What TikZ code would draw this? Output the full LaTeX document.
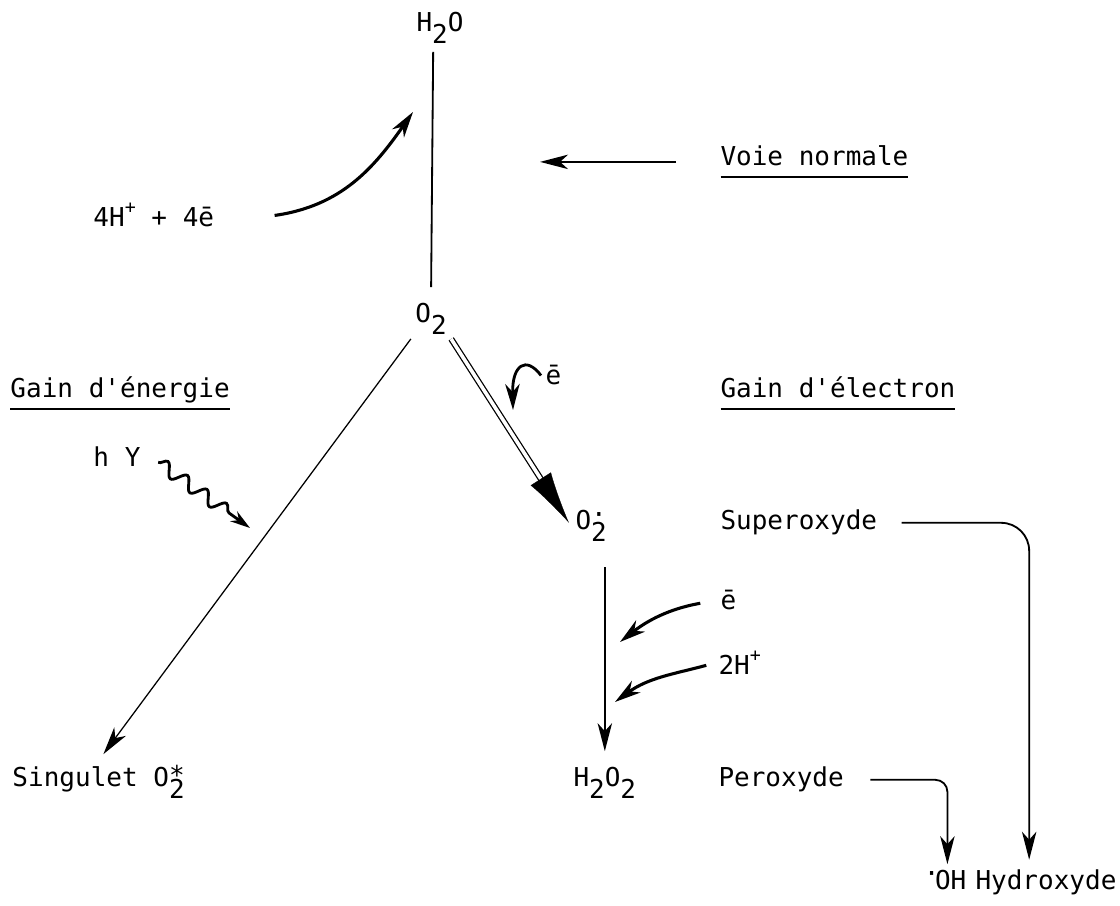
\documentclass[tikz,border=0pt]{standalone}
\usepackage{fontspec}
\setmainfont{DejaVu Sans Mono}
\usetikzlibrary{arrows.meta, positioning, calc, decorations.pathmorphing}
\newcommand\indice[1]{\raisebox{-0.44em}{#1}}
\newcommand\expo[1]{\raisebox{0.5em}{\fontsize{13}{13}\selectfont #1}}
\newcommand\souligne[1]{\setbox0\hbox{#1}\copy0\llap{\rule[-0.45em]{\wd0}{0.9pt}}}
\tikzset{
  texte/.style={font=\fontsize{18.5}{22}\selectfont, inner sep=3pt},
  trait/.style={line width=1.3pt},
  traitFin/.style={line width=0.9pt},
  pointe/.style={-{Stealth[length=7mm, width=3.6mm, inset=2mm]}},
  fleche/.style={trait, pointe},
  flecheCourbe/.style={line width=2.2pt, -{Stealth[length=6.5mm, width=3.6mm, inset=2mm]}},
  doubleTrait/.style={double, double distance=0.9mm, line width=0.9pt, shorten >=7mm},
  grandePointe/.style={white, line width=0.2pt, shorten >=1mm,
    -{Latex[length=13mm, width=6mm, color=black, fill=black]}},
  ondule/.style={line width=2pt, decorate,
    decoration={snake, amplitude=1.6mm, segment length=6mm, post length=5mm},
    -{Stealth[length=5mm, width=3mm]}},
}
\begin{document}
\begin{tikzpicture}[x=0.25mm, y=0.25mm]
  \useasboundingbox (0,0) rectangle (1120,906);
  \node[texte, anchor=base] (eau) at (440,874) {H\indice{2}O};
  \node[texte, anchor=base] (oxy) at (431,583) {O\indice{2}};
  \node[texte, anchor=base west] (protons) at (89,679) {4H\expo{+} + 4ē};
  \node[texte, anchor=base west] (voie) at (716,740) {\souligne{Voie normale}};
  \node[texte, anchor=base west] (energie) at (6,508) {\souligne{Gain d\textquotesingle énergie}};
  \node[texte, anchor=base west] (electron) at (716,508) {\souligne{Gain d\textquotesingle électron}};
  \node[texte, anchor=base west] (hnu) at (89,439) {h Y};
  \node[texte, anchor=base west] (singulet) at (8,119) {Singulet O\makebox[0pt][l]{\raisebox{0.1em}{*}}\indice{2}};
  \node[texte, anchor=base west] (o2rad) at (571,376) {O\makebox[0pt][l]{\raisebox{0.25em}{·}}\indice{2}};
  \node[texte, anchor=base west] (superoxyde) at (716,376) {Superoxyde};
  \node[texte, anchor=base west] (elecA) at (541,521) {ē};
  \node[texte, anchor=base west] (elecB) at (716,296) {ē};
  \node[texte, anchor=base west] (protonsB) at (714,231) {2H\expo{+}};
  \node[texte, anchor=base west] (h2o2) at (569,119) {H\indice{2}O\indice{2}};
  \node[texte, anchor=base west] (peroxyde) at (714,119) {Peroxyde};
  \node[texte, anchor=base west] (oh) at (924,16) {\makebox[0.25em]{\raisebox{0.3em}{·}}OH};
  \node[texte, anchor=base west] (hydroxyde) at (971,16) {Hydroxyde};

  \coordinate (cEau) at (413,794);
  \coordinate (cVoie) at (540,749);
  \coordinate (cOnde) at (250,378);
  \coordinate (cElecA) at (513,496);
  \coordinate (cElecB) at (620,264);
  \coordinate (cProtB) at (615,204);

  \draw[trait, shorten <=1mm, shorten >=3mm] ([xshift=-1.7mm]eau.south) -- (oxy.north);
  \draw[flecheCourbe] ([xshift=14mm]protons.east) to[out=8, in=235] (cEau);
  \draw[fleche, line width=1.6pt, shorten <=10mm] (voie.west) -- (voie.west -| cVoie);
  \draw[traitFin, pointe, shorten >=2mm] (oxy.south west) -- (singulet.north);
  \draw[ondule] ([xshift=3.3mm, yshift=-1.3mm]hnu.east) -- (cOnde);
  \draw[doubleTrait] (oxy.south east) -- (o2rad.west);
  \draw[grandePointe] (oxy.south east) -- (o2rad.west);
  \draw[flecheCourbe, line width=2pt] (elecA.west) .. controls +(-15,20) and +(-1,45) .. (cElecA);
  \draw[fleche, shorten <=5.3mm, shorten >=3mm] (o2rad.south -| h2o2.north) -- (h2o2.north);
  \draw[flecheCourbe, shorten <=4mm] (elecB.west) to[out=190, in=38] (cElecB);
  \draw[flecheCourbe, shorten <=2mm] (protonsB.west) to[out=195, in=36] (cProtB);
  \draw[fleche, rounded corners=3mm, shorten <=5.5mm, shorten >=0.5mm] (peroxyde.east) -| (oh.north);
  \draw[fleche, rounded corners=7mm, shorten <=5mm, shorten >=1.5mm] (superoxyde.east) -| ([xshift=-4.2mm]hydroxyde.north);
\end{tikzpicture}
\end{document}
